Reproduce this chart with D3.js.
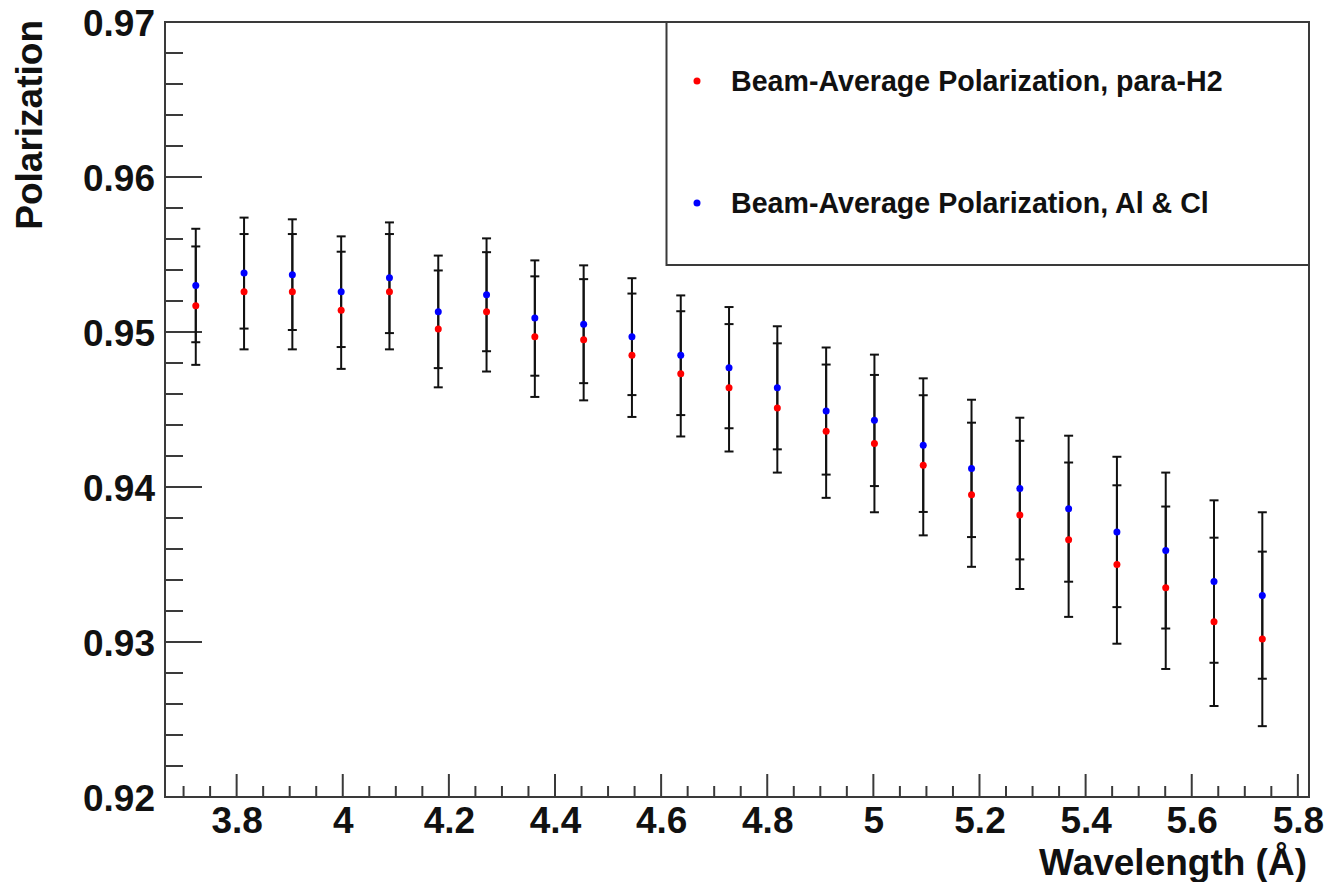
<!DOCTYPE html>
<html>
<head>
<meta charset="utf-8">
<script src="https://cdn.jsdelivr.net/npm/d3@7"></script>
<style>
  html, body { margin: 0; padding: 0; background: #fff; }
  svg { display: block; }
  text { font-family: "Liberation Sans", Arial, Helvetica, sans-serif; font-weight: bold; fill: #111; }
</style>
</head>
<body>
<script>
// ---- data ----
const wavelength = [3.723, 3.814, 3.905, 3.997, 4.088, 4.180, 4.271, 4.362, 4.454, 4.545, 4.637, 4.728,
                    4.819, 4.911, 5.002, 5.094, 5.185, 5.276, 5.368, 5.459, 5.551, 5.642, 5.733];
const polParaH2 = [0.9517, 0.9526, 0.9526, 0.9514, 0.9526, 0.9502, 0.9513, 0.9497, 0.9495, 0.9485, 0.9473, 0.9464,
                   0.9451, 0.9436, 0.9428, 0.9414, 0.9395, 0.9382, 0.9366, 0.9350, 0.9335, 0.9313, 0.9302];
const errParaH2 = [0.00382, 0.00372, 0.00372, 0.00378, 0.00372, 0.00377, 0.00385, 0.00389, 0.00391, 0.00398, 0.00404, 0.00411,
                   0.00417, 0.00430, 0.00443, 0.00452, 0.00465, 0.00478, 0.00498, 0.00511, 0.00524, 0.00543, 0.00563];
const polAlCl   = [0.9530, 0.9538, 0.9537, 0.9526, 0.9535, 0.9513, 0.9524, 0.9509, 0.9505, 0.9497, 0.9485, 0.9477,
                   0.9464, 0.9449, 0.9443, 0.9427, 0.9412, 0.9399, 0.9386, 0.9371, 0.9359, 0.9339, 0.9330];
const errAlCl   = [0.00366, 0.00358, 0.00357, 0.00357, 0.00357, 0.00363, 0.00364, 0.00372, 0.00380, 0.00377, 0.00386, 0.00391,
                   0.00397, 0.00410, 0.00424, 0.00431, 0.00443, 0.00457, 0.00471, 0.00485, 0.00503, 0.00524, 0.00537];
const xTickValues = [3.8, 4.0, 4.2, 4.4, 4.6, 4.8, 5.0, 5.2, 5.4, 5.6, 5.8];
const xTickLabels = ["3.8", "4", "4.2", "4.4", "4.6", "4.8", "5", "5.2", "5.4", "5.6", "5.8"];
const yTickValues = [0.92, 0.93, 0.94, 0.95, 0.96, 0.97];
const yTickLabels = ["0.92", "0.93", "0.94", "0.95", "0.96", "0.97"];
const seriesNames = ["Beam-Average Polarization, para-H2", "Beam-Average Polarization, Al & Cl"];
const seriesColors = ["#ff0000", "#0000ff"];

// ---- layout ----
const W = 1325, H = 882;
const L = 165, R = 1309, T = 22, B = 797;
const axisColor = "#3a3a3a";

const svg = d3.select("body").append("svg").attr("width", W).attr("height", H);

const x = d3.scaleLinear().domain([3.665, 5.821]).range([L, R]);
const y = d3.scaleLinear().domain([0.92, 0.97]).range([B, T]);

// minor ticks
const xMinor = d3.range(3.70, 5.821, 0.05).filter(v => Math.abs(Math.round(v * 5) - v * 5) > 1e-6);
const yMinor = d3.range(0.922, 0.97, 0.002).filter(v => Math.abs(Math.round(v * 100) - v * 100) > 1e-6);

// X axis
const xAxis = d3.axisBottom(x).tickValues(xTickValues).tickFormat((d, i) => xTickLabels[i]).tickSize(0).tickPadding(0);
const gx = svg.append("g").attr("transform", `translate(0,${B})`).call(xAxis);
gx.select(".domain").remove();
gx.selectAll("text").attr("font-size", 37).attr("dy", null).attr("y", 36).style("font-family", '"Liberation Sans", Arial, sans-serif').style("font-weight", "bold").attr("fill", "#111");

svg.append("g").selectAll("line").data(xTickValues).join("line")
  .attr("x1", d => x(d)).attr("x2", d => x(d)).attr("y1", B).attr("y2", B - 23)
  .attr("stroke", axisColor).attr("stroke-width", 2);
svg.append("g").selectAll("line").data(xMinor).join("line")
  .attr("x1", d => x(d)).attr("x2", d => x(d)).attr("y1", B).attr("y2", B - 11)
  .attr("stroke", axisColor).attr("stroke-width", 2);

// Y axis
const yAxis = d3.axisLeft(y).tickValues(yTickValues).tickFormat((d, i) => yTickLabels[i]).tickSize(0).tickPadding(10);
const gy = svg.append("g").attr("transform", `translate(${L},0)`).call(yAxis);
gy.select(".domain").remove();
gy.selectAll("text").attr("font-size", 37).attr("dy", "0.36em").attr("x", -10).style("font-family", '"Liberation Sans", Arial, sans-serif').style("font-weight", "bold").attr("fill", "#111");

svg.append("g").selectAll("line").data(yTickValues).join("line")
  .attr("x1", L).attr("x2", L + 37).attr("y1", d => y(d)).attr("y2", d => y(d))
  .attr("stroke", axisColor).attr("stroke-width", 2);
svg.append("g").selectAll("line").data(yMinor).join("line")
  .attr("x1", L).attr("x2", L + 18).attr("y1", d => y(d)).attr("y2", d => y(d))
  .attr("stroke", axisColor).attr("stroke-width", 2);

// frame
svg.append("rect").attr("x", L).attr("y", T).attr("width", R - L).attr("height", B - T)
  .attr("fill", "none").attr("stroke", axisColor).attr("stroke-width", 2);

// axis titles
svg.append("text").attr("x", 1307).attr("y", 875).attr("text-anchor", "end").attr("font-size", 37)
  .text("Wavelength (Å)");
svg.append("text").attr("transform", "translate(42,20) rotate(-90)").attr("text-anchor", "end").attr("font-size", 37)
  .text("Polarization");

// data
const series = [
  { vals: polParaH2, errs: errParaH2, color: seriesColors[0] },
  { vals: polAlCl, errs: errAlCl, color: seriesColors[1] }
];
const capW = 4.5;
const gBars = svg.append("g").attr("stroke", "#111").attr("stroke-width", 2);
series.forEach(s => {
  const pts = wavelength.map((w, i) => ({ w, v: s.vals[i], e: s.errs[i] }));
  const g = gBars.append("g");
  g.selectAll("line.v").data(pts).join("line").attr("class", "v")
    .attr("x1", d => x(d.w)).attr("x2", d => x(d.w))
    .attr("y1", d => y(d.v + d.e)).attr("y2", d => y(d.v - d.e));
  g.selectAll("line.t").data(pts).join("line").attr("class", "t")
    .attr("x1", d => x(d.w) - capW).attr("x2", d => x(d.w) + capW)
    .attr("y1", d => y(d.v + d.e)).attr("y2", d => y(d.v + d.e));
  g.selectAll("line.b").data(pts).join("line").attr("class", "b")
    .attr("x1", d => x(d.w) - capW).attr("x2", d => x(d.w) + capW)
    .attr("y1", d => y(d.v - d.e)).attr("y2", d => y(d.v - d.e));
});
series.forEach(s => {
  svg.append("g").selectAll("circle").data(wavelength.map((w, i) => ({ w, v: s.vals[i] }))).join("circle")
    .attr("cx", d => x(d.w)).attr("cy", d => y(d.v)).attr("r", 3.5).attr("fill", s.color);
});

// legend
svg.append("rect").attr("x", 666.5).attr("y", T).attr("width", R - 666.5).attr("height", 243)
  .attr("fill", "#fff").attr("stroke", axisColor).attr("stroke-width", 2);
const legY = [81, 203];
seriesNames.forEach((name, i) => {
  svg.append("circle").attr("cx", 697).attr("cy", legY[i]).attr("r", 3.5).attr("fill", seriesColors[i]);
  svg.append("text").attr("x", 731).attr("y", legY[i] + 9.5).attr("font-size", 28.6).text(name);
});
</script>
</body>
</html>
